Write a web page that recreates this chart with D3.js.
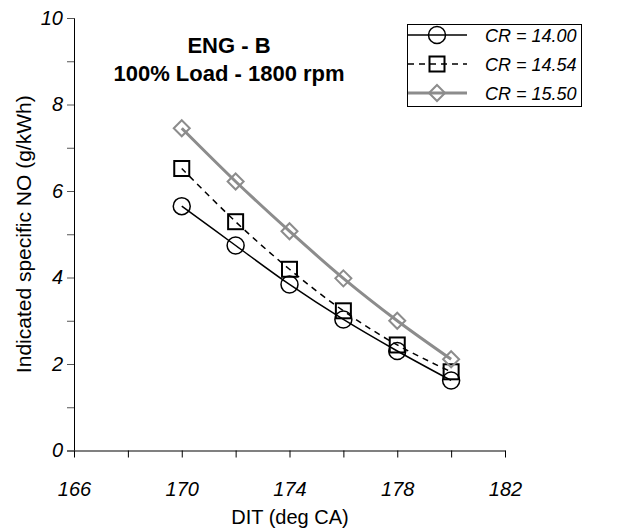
<!DOCTYPE html>
<html><head><meta charset="utf-8">
<script src="https://cdn.jsdelivr.net/npm/d3@7/dist/d3.min.js"></script>
<style>body{margin:0;background:#fff}svg{display:block;font-family:"Liberation Sans",Arial,sans-serif}</style>
</head><body>
<script>
const dit = [170, 172, 174, 176, 178, 180];
const cr1400 = [5.65, 4.74, 3.84, 3.03, 2.30, 1.62];
const cr1454 = [6.52, 5.29, 4.19, 3.23, 2.44, 1.82];
const cr1550 = [7.45, 6.22, 5.07, 3.98, 3.00, 2.11];
const seriesNames = ["CR = 14.00", "CR = 14.54", "CR = 15.50"];
const xTickLabels = [166, 170, 174, 178, 182];
const yTickLabels = [0, 2, 4, 6, 8, 10];

const W = 624, H = 529;
const FF = '"Liberation Sans",Arial,sans-serif';
const svg = d3.select("body").append("svg").attr("width", W).attr("height", H);
const x = d3.scaleLinear().domain([166, 182]).range([74, 505]);
const y = d3.scaleLinear().domain([0, 10]).range([450.5, 18]);

// axes
const yAxis = d3.axisLeft(y).tickValues(d3.range(0, 11, 1)).tickSize(7).tickFormat(d => yTickLabels.includes(d) ? d : "");
const gy = svg.append("g").attr("transform", `translate(${x(166)},0)`).call(yAxis);
gy.select(".domain").attr("stroke", "#000").attr("stroke-width", 1);
gy.selectAll(".tick line").attr("stroke", "#555");
gy.selectAll(".tick text").attr("font-size", 20).attr("font-style", "italic").attr("x", -11).attr("fill", "#000")
  .attr("font-family", FF);

const xAxis = d3.axisBottom(x).tickValues(d3.range(166, 183, 2)).tickSize(7).tickSizeOuter(0).tickFormat(d => xTickLabels.includes(d) ? d : "");
const gx = svg.append("g").attr("transform", `translate(0,${y(0)})`).call(xAxis);
gx.select(".domain").attr("stroke", "#808080").attr("stroke-width", 2);
gx.selectAll(".tick line").attr("stroke", "#000");
gx.selectAll(".tick text").attr("font-size", 20).attr("font-style", "italic").attr("y", 31).attr("fill", "#000")
  .attr("font-family", FF);

// labels
svg.append("text").attr("x", 290).attr("y", 524).attr("text-anchor", "middle").attr("font-size", 20).text("DIT (deg CA)");
svg.append("text").attr("transform", `translate(31,${y(5)}) rotate(-90)`).attr("text-anchor", "middle").attr("font-size", 21)
  .text("Indicated specific NO (g/kWh)");
svg.append("text").attr("x", 229).attr("y", 53).attr("text-anchor", "middle").attr("font-size", 22).attr("font-weight", "bold").text("ENG - B");
svg.append("text").attr("x", 229).attr("y", 81).attr("text-anchor", "middle").attr("font-size", 22).attr("font-weight", "bold").text("100% Load - 1800 rpm");

const styles = [
  {data: cr1400, stroke: "#000", width: 1.5, dash: null, marker: "circle"},
  {data: cr1454, stroke: "#000", width: 1.5, dash: "6,5", marker: "square"},
  {data: cr1550, stroke: "#8c8c8c", width: 3, dash: null, marker: "diamond"}
];
const line = d3.line().x((d, i) => x(dit[i])).y(d => y(d)).curve(d3.curveCatmullRom.alpha(0.5));

function drawMarker(g, type, cx, cy, color) {
  if (type === "circle") {
    g.append("circle").attr("cx", cx).attr("cy", cy).attr("r", 8.5).attr("fill", "none").attr("stroke", color).attr("stroke-width", 1.5);
  } else if (type === "square") {
    g.append("rect").attr("x", cx - 7.5).attr("y", cy - 7.5).attr("width", 15).attr("height", 15).attr("fill", "none").attr("stroke", color).attr("stroke-width", 2);
  } else {
    const s = 8;
    g.append("path").attr("d", `M${cx},${cy - s}L${cx + s},${cy}L${cx},${cy + s}L${cx - s},${cy}Z`).attr("fill", "none").attr("stroke", "#8c8c8c").attr("stroke-width", 2);
  }
}

styles.forEach(s => {
  svg.append("path").datum(s.data).attr("d", line).attr("fill", "none").attr("stroke", s.stroke)
    .attr("stroke-width", s.width).attr("stroke-dasharray", s.dash);
  const g = svg.append("g");
  s.data.forEach((v, i) => drawMarker(g, s.marker, x(dit[i]), y(v), s.stroke));
});

// legend
const lg = svg.append("g");
lg.append("rect").attr("x", 407.5).attr("y", 24.5).attr("width", 174).attr("height", 82).attr("fill", "#fff").attr("stroke", "#000").attr("stroke-width", 1);
const rowsY = [35, 64, 93];
styles.forEach((s, i) => {
  lg.append("line").attr("x1", 408).attr("x2", 467).attr("y1", rowsY[i]).attr("y2", rowsY[i]).attr("stroke", s.stroke)
    .attr("stroke-width", s.width).attr("stroke-dasharray", s.dash);
  drawMarker(lg, s.marker, 437, rowsY[i], s.stroke);
  lg.append("text").attr("x", 485).attr("y", rowsY[i] + 6.5).attr("font-size", 18).attr("font-style", "italic").text(seriesNames[i]);
});
</script>
</body></html>
